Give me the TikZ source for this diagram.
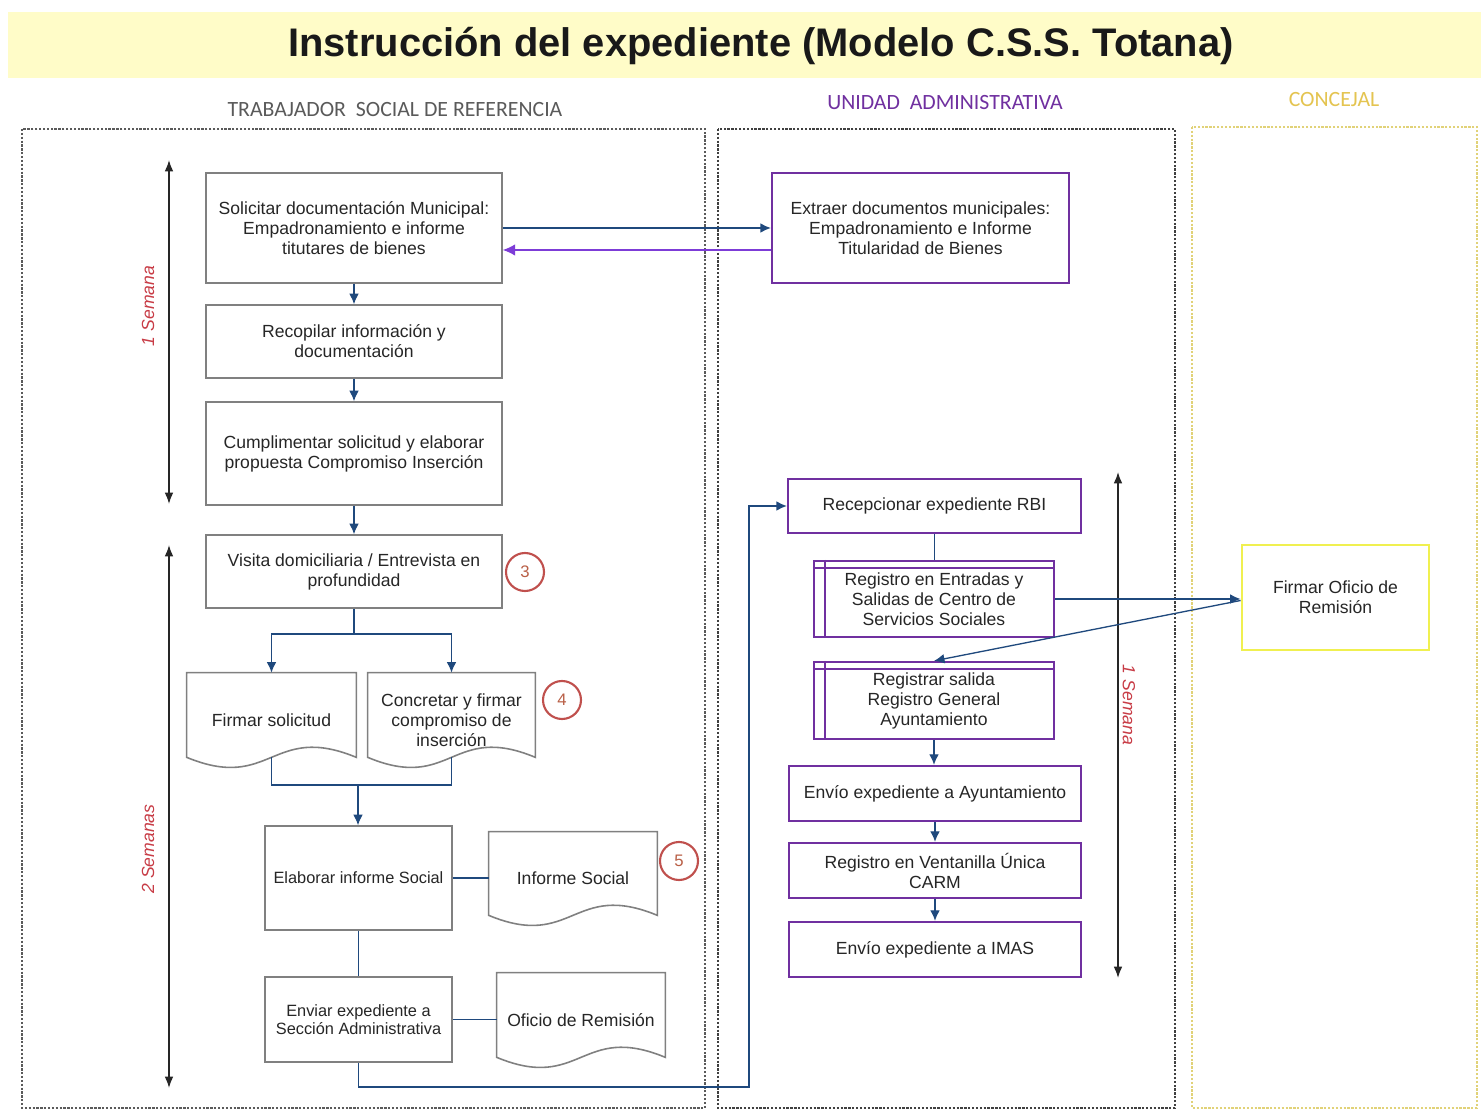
\documentclass[tikz,border=0pt]{standalone}
\usepackage{fontspec}
\setmainfont{Liberation Sans}
\newfontfamily\lanefont{Carlito}
\usetikzlibrary{arrows.meta}

\definecolor{bandyellow}{RGB}{255,252,200}
\definecolor{boxgray}{RGB}{128,128,128}
\definecolor{adminpurple}{RGB}{112,48,160}
\definecolor{flowblue}{RGB}{31,73,125}
\definecolor{backviolet}{RGB}{125,60,215}
\definecolor{numred}{RGB}{192,80,77}
\definecolor{numtext}{RGB}{185,95,70}
\definecolor{weekred}{RGB}{200,60,70}
\definecolor{signyellow}{RGB}{240,240,80}
\definecolor{concejalgold}{RGB}{228,196,80}
\definecolor{lanegray}{RGB}{90,90,90}
\definecolor{laneyellow}{RGB}{225,210,120}

\newcommand{\docshape}[1]{\draw[boxgray, line width=0.9pt] (#1.north west) -- (#1.north east) -- ([yshift=0.2cm]#1.south east) .. controls ([yshift=0.9cm]#1.south) and ([yshift=-0.5cm]#1.south) .. ([yshift=0.2cm]#1.south west) -- cycle;}
\newcommand{\procbars}[1]{\draw[adminpurple, line width=1.2pt] ([xshift=0.24cm]#1.north west) -- ([xshift=0.24cm]#1.south west); \draw[adminpurple, line width=1.2pt] ([yshift=-0.16cm]#1.north west) -- ([yshift=-0.16cm]#1.north east);}

\begin{document}
\begin{tikzpicture}[x=0.02cm, y=-0.02cm,
	box/.style={draw=boxgray, line width=0.9pt, fill=white, align=center, text=black!85, font=\fontsize{10}{11.4}\selectfont, inner sep=2pt},
	smallbox/.style={box, font=\fontsize{9.3}{10.3}\selectfont},
	adminbox/.style={box, draw=adminpurple, line width=1.3pt},
	signbox/.style={box, draw=signyellow, line width=1.6pt},
	docnode/.style={align=center, text=black!85, font=\fontsize{10}{11.4}\selectfont, inner sep=2pt},
	num/.style={circle, draw=numred, line width=1.2pt, fill=white, minimum size=0.76cm, inner sep=0pt, text=numtext, font=\fontsize{9.5}{9.5}\selectfont},
	conn/.style={draw=flowblue, line width=0.75pt, -{Latex[length=6pt,width=5.5pt]}},
	link/.style={draw=flowblue, line width=0.75pt},
	back/.style={draw=backviolet, line width=0.75pt, -{Latex[length=7pt,width=6.5pt]}},
	week/.style={black!85, line width=0.9pt, {Latex[length=6.5pt,width=5pt]}-{Latex[length=6.5pt,width=5pt]}},
	weeklbl/.style={text=weekred, font=\fontsize{10}{12}\selectfont\itshape},
	lanebox/.style={line width=0.7pt, dash pattern=on 1.3pt off 0.9pt},
	lanelbl/.style={font=\lanefont\fontsize{12.4}{14}\selectfont}]
	\useasboundingbox (0,0) rectangle (1481,1111);
	\fill[white] (0,0) rectangle (1481,1111);
	\fill[bandyellow] (8,12) rectangle (1481,78);
	\node[text=black!90] (title) at (761,46) {\fontsize{22.7}{26}\selectfont\bfseries Instrucción del expediente (Modelo C.S.S. Totana)};

	\node[lanelbl, text=lanegray] (lane1) at (395,110) {TRABAJADOR\ \ SOCIAL DE REFERENCIA};
	\node[lanelbl, text=adminpurple] (lane2) at (945,103) {UNIDAD\ \ ADMINISTRATIVA};
	\node[lanelbl, text=concejalgold] (lane3) at (1334,100) {CONCEJAL};
	\draw[lanebox, draw=lanegray] (22,129) rectangle (705,1108);
	\draw[lanebox, draw=black!75] (718,129) rectangle (1175,1108);
	\draw[lanebox, draw=laneyellow] (1192,127) rectangle (1477,1108);

	\node[box, minimum width=5.92cm, minimum height=2.2cm] (b1) at (354,228) {Solicitar documentación Municipal:\\Empadronamiento e informe\\titutares de bienes};
	\node[box, minimum width=5.92cm, minimum height=1.46cm] (b2) at (354,341.5) {Recopilar información y\\documentación};
	\node[box, minimum width=5.92cm, minimum height=2.06cm] (b3) at (354,453.5) {Cumplimentar solicitud y elaborar\\propuesta Compromiso Inserción};
	\node[box, minimum width=5.92cm, minimum height=1.46cm] (b4) at (354,571.5) {Visita domiciliaria / Entrevista en\\profundidad};
	\node[docnode, minimum width=3.38cm, minimum height=1.88cm] (d1) at (271.5,720) {Firmar solicitud};
	\node[docnode, minimum width=3.34cm, minimum height=1.88cm] (d2) at (451.5,720) {Concretar y firmar\\compromiso de\\inserción};
	\node[smallbox, minimum width=3.74cm, minimum height=2.08cm] (b5) at (358.5,878) {Elaborar informe Social};
	\node[docnode, minimum width=3.36cm, minimum height=1.86cm] (d3) at (573,878.5) {Informe Social};
	\node[smallbox, minimum width=3.74cm, minimum height=1.7cm] (b6) at (358.5,1019.5) {Enviar expediente a\\Sección Administrativa};
	\node[docnode, minimum width=3.36cm, minimum height=1.88cm] (d4) at (581,1020) {Oficio de Remisión};
	\docshape{d1}
	\docshape{d2}
	\docshape{d3}
	\docshape{d4}
	\node[num] (n3) at (525,572) {3};
	\node[num] (n4) at (562,700) {4};
	\node[num] (n5) at (679,861) {5};

	\node[adminbox, minimum width=5.94cm, minimum height=2.2cm] (e1) at (920.5,228) {Extraer documentos municipales:\\Empadronamiento e Informe\\Titularidad de Bienes};
	\node[adminbox, minimum width=5.86cm, minimum height=1.08cm] (r1) at (934.5,506) {Recepcionar expediente RBI};
	\node[adminbox, minimum width=4.8cm, minimum height=1.52cm] (r2) at (934,599) {Registro en Entradas y\\Salidas de Centro de\\Servicios Sociales};
	\node[adminbox, minimum width=4.8cm, minimum height=1.54cm] (r3) at (934,700.5) {Registrar salida\\Registro General\\Ayuntamiento};
	\procbars{r2}
	\procbars{r3}
	\node[adminbox, minimum width=5.84cm, minimum height=1.1cm] (r4) at (935,793.5) {Envío expediente a Ayuntamiento};
	\node[adminbox, minimum width=5.84cm, minimum height=1.1cm] (r5) at (935,870.5) {Registro en Ventanilla Única\\CARM};
	\node[adminbox, minimum width=5.84cm, minimum height=1.1cm] (r6) at (935,949.5) {Envío expediente a IMAS};
	\node[signbox, minimum width=3.74cm, minimum height=2.1cm] (f1) at (1335.5,597.5) {Firmar Oficio de\\Remisión};

	\coordinate (w1top) at (169,160);
	\coordinate (w1bot) at (169,504);
	\coordinate (w2top) at (169,545);
	\coordinate (w2bot) at (169,1088);
	\coordinate (w3top) at (1118,472);
	\coordinate (w3bot) at (1118,978);
	\draw[week] (w1top) -- (w1bot);
	\draw[week] (w2top) -- (w2bot);
	\draw[week] (w3top) -- (w3bot);
	\node[weeklbl, rotate=90] (wk1) at (148,306) {1 Semana};
	\node[weeklbl, rotate=90] (wk2) at (148,849) {2 Semanas};
	\node[weeklbl, rotate=-90] (wk3) at (1129,705) {1 Semana};

	\draw[conn] (b1) -- (b2);
	\draw[conn] (b2) -- (b3);
	\draw[conn] (b3) -- (b4);
	\coordinate (split) at (354,634);
	\draw[link] (b4) -- (split);
	\draw[conn] (split) -| (d1);
	\draw[conn] (split) -| (d2);
	\coordinate (join) at (358,785);
	\draw[link] ([yshift=0.2cm]d1.south) |- (join) -| ([yshift=0.2cm]d2.south);
	\draw[conn] (join) -- (join |- b5.north);
	\draw[link] (b5.east) -- (b5.east -| d3.west);
	\draw[link] (b5) -- (b6);
	\draw[link] (b6.east) -- (b6.east -| d4.west);
	\coordinate (bend) at (749,1087);
	\draw[conn] (b6.south) |- (bend) |- (r1.west);
	\draw[conn] (b1.east) -- (e1.west);
	\draw[back] ([yshift=-0.44cm]e1.west) -- ([yshift=-0.44cm]b1.east);
	\draw[link] (r1.south) -- (r1.south |- r2.north);
	\draw[conn] (r2.east) -- (r2.east -| f1.west);
	\draw[conn] ([yshift=-0.06cm]f1.west) -- (r3.north);
	\draw[conn] (r3.south) -- (r3.south |- r4.north);
	\draw[conn] (r4) -- (r5);
	\draw[conn] (r5) -- (r6);
\end{tikzpicture}
\end{document}
